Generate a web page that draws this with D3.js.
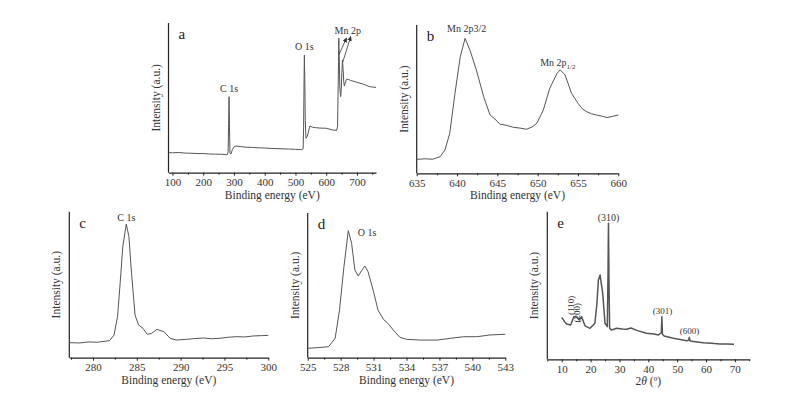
<!DOCTYPE html>
<html>
<head>
<meta charset="utf-8">
<script src="https://cdn.jsdelivr.net/npm/d3@7"></script>
<style>
  body { margin: 0; background: #fff; }
  svg { display: block; font-family: "Liberation Serif", "Times New Roman", serif; }
  .domain, .tick line { stroke: #222; }
  .tick text { fill: #333; font-size: 11px; font-family: "Liberation Serif", "Times New Roman", serif; }
</style>
</head>
<body>
<div id="chart"></div>
<script>
// ---- data (intensities are relative, 0-100 of the plot height) ----

// a: XPS survey
const surveyEnergy = [87, 100, 120, 140, 160, 180, 200, 220, 240, 260, 278, 281, 282.5, 284, 285.5, 287, 290, 295, 300, 306,
  320, 340, 360, 380, 400, 420, 440, 460, 480, 500, 520, 525, 526.5, 528, 529, 530.5, 532, 534, 538, 542, 547, 555, 565,
  580, 600, 620, 634, 637, 639, 641, 642.5, 644.5, 647, 649, 651, 653, 655, 657, 659, 662, 666, 672, 680, 690, 700, 710,
  720, 730, 740, 750, 762];
const surveyIntensity = [13.4, 13.3, 13.5, 13.1, 13.0, 12.8, 12.8, 12.5, 12.4, 12.3, 12.0, 14, 32, 50.8, 30, 13, 12.5, 15.5, 17.2, 17.8,
  17.5, 17.0, 16.9, 16.6, 16.5, 16.2, 16.1, 15.9, 15.8, 15.6, 15.4, 16, 30, 62, 78.6, 60, 35, 23, 24, 27, 31.2, 30.4, 30.1,
  29.8, 29.7, 28.6, 28.2, 31, 58, 89.8, 76, 56, 50.8, 56, 67, 75.3, 69, 61, 58, 60, 62.4, 62.3, 61.6, 61, 60.4, 59.8,
  59.2, 58.4, 57.6, 57.2, 57];

// b: Mn 2p
const mnEnergy = [635, 636, 637, 637.9, 638.5, 639.1, 639.75, 640.4, 641.0, 641.6, 642.4, 643.3, 643.7, 644.1, 644.7, 645.3,
  646.1, 647, 647.8, 648.6, 649.3, 649.9, 650.7, 651.5, 652.4, 652.8, 653.4, 654.2, 654.6, 655.0, 655.6, 656.1, 656.7,
  657.3, 658.0, 658.6, 659.3, 660];
const mnIntensity = [9.4, 9.8, 9.5, 11.2, 15.7, 27, 54, 78.6, 91, 83.1, 69.7, 51.7, 45.5, 39.3, 36.6, 33.2,
  32.4, 31, 30.5, 29.7, 31.2, 33.7, 42.7, 57.3, 67.4, 69.7, 66.3, 54, 50.5, 47.2, 43.2, 41.5, 40.1,
  39.3, 38.5, 37.6, 38.4, 39.3];

// c: C 1s
const c1sEnergy = [277.3, 278.5, 279.5, 280.5, 281.9, 282.4, 282.8, 283.1, 283.4, 283.8, 284.1, 284.4, 284.8, 285.2, 285.7,
  286.2, 286.7, 287.3, 288.1, 288.8, 289.5, 290.7, 291.6, 292.6, 293.5, 294.5, 295.4, 296.4, 297.3, 298.3, 299.2, 300];
const c1sIntensity = [10.3, 10.1, 10.8, 10.6, 11.7, 15.5, 28, 51, 76, 91.6, 82.9, 57.8, 29.2, 22.4, 20.1,
  16, 16.7, 19.4, 17.8, 13.3, 12.1, 12.6, 13.1, 13.5, 13.0, 13.3, 14.0, 14.4, 14.2, 14.9, 15.1, 15.3];

// d: O 1s
const o1sEnergy = [525, 526, 526.9, 527.5, 527.9, 528.3, 528.7, 529.0, 529.3, 529.6, 529.9, 530.2, 530.5, 531.0, 531.4,
  531.9, 532.3, 532.8, 533.4, 534.0, 535.2, 536.8, 538, 539.2, 540.4, 541.6, 543];
const o1sIntensity = [6.5, 7.0, 7.6, 13.4, 33, 62.9, 87.8, 79, 60.6, 56.5, 60.1, 63.4, 59.4, 45.6, 33,
  26.5, 23.8, 19.1, 14.1, 12.7, 12.2, 12.2, 13.4, 14.5, 14.5, 15.7, 16.2];

// e: XRD
const xrdAngle = [10, 11, 11.7, 13.1, 14.2, 15.2, 16.1, 16.9, 18.1, 19.8, 21.5, 22.2, 22.7, 23.3, 24.2, 25, 25.8, 26.05,
  26.2, 26.4, 26.6, 27.3, 29, 31, 32.5, 34, 36, 39.4, 42, 43.5, 44.5, 44.7, 44.9, 45.5, 48.7, 51, 53.3, 54.0, 54.2,
  54.5, 57, 59.1, 62, 64.8, 67, 69.7];
const xrdIntensity = [28.4, 25.5, 23.9, 23.2, 28.9, 28.4, 26.6, 28.9, 22.6, 21, 24.4, 38, 53.7, 57.1, 44.7, 24.4, 22.1, 60,
  92.1, 50, 21, 19.8, 21, 20.5, 20.3, 21.2, 19.6, 17.6, 17.2, 16.5, 18, 28.9, 17, 15.8, 14.2, 13.4, 12.6, 13, 14.9,
  12.4, 11.8, 11.2, 10.8, 10.4, 10.3, 10.2];

// tick labels
const surveyTicks = [100, 200, 300, 400, 500, 600, 700];
const mnTicks = [635, 640, 645, 650, 655, 660];
const c1sTicks = [280, 285, 290, 295, 300];
const o1sTicks = [525, 528, 531, 534, 537, 540, 543];
const xrdTicks = [10, 20, 30, 40, 50, 60, 70];

const width = 787, height = 396;

const svg = d3.select("#chart").append("svg")
  .attr("width", width)
  .attr("height", height)
  .attr("viewBox", [0, 0, width, height]);

svg.append("defs").append("marker")
  .attr("id", "arrow")
  .attr("viewBox", "0 0 10 10")
  .attr("refX", 9).attr("refY", 5)
  .attr("markerWidth", 6).attr("markerHeight", 6)
  .attr("orient", "auto")
  .append("path")
  .attr("d", "M0,0 L10,5 L0,10 z")
  .attr("fill", "#333");

// draws one panel: left + bottom axis, major/minor ticks, curve, titles
function drawPanel(p) {
  const x = d3.scaleLinear().domain(p.xDomain).range([p.left, p.right]);
  const y = d3.scaleLinear().domain([0, 100]).range([p.bottom, p.top]);
  const g = svg.append("g");

  // minor ticks halfway between labelled ones
  const step = p.ticks[1] - p.ticks[0];
  const minor = [];
  for (let v = p.ticks[0] - step / 2; v <= p.xDomain[1] + 1e-9; v += step) {
    if (v >= p.xDomain[0] - 1e-9) minor.push(v);
  }
  g.append("g")
    .attr("transform", `translate(0,${p.bottom})`)
    .call(d3.axisBottom(x).tickValues(minor).tickSize(2).tickSizeOuter(0).tickFormat(""))
    .call(a => a.select(".domain").remove());

  g.append("g")
    .attr("transform", `translate(0,${p.bottom})`)
    .call(d3.axisBottom(x).tickValues(p.ticks).tickSize(3).tickSizeOuter(0).tickPadding(3))
    .attr("font-family", null)
    .call(a => a.select(".domain").attr("stroke-width", 1.2));

  g.append("line")
    .attr("x1", p.left).attr("x2", p.left)
    .attr("y1", p.top).attr("y2", p.bottom)
    .attr("stroke", "#222").attr("stroke-width", 1.2);

  const line = d3.line().x(d => x(d[0])).y(d => y(d[1]));
  g.append("path")
    .datum(d3.zip(p.xs, p.ys))
    .attr("d", line)
    .attr("fill", "none")
    .attr("stroke", "#555")
    .attr("stroke-width", p.strokeWidth || 1)
    .attr("stroke-linejoin", "round");

  // axis titles
  const xt = g.append("text")
    .attr("x", (p.left + p.right) / 2)
    .attr("y", p.bottom + 26)
    .attr("text-anchor", "middle")
    .attr("font-size", 11.5)
    .attr("fill", "#333");
  if (p.xTitleTheta) {
    xt.append("tspan").text("2");
    xt.append("tspan").attr("font-style", "italic").text("θ");
    xt.append("tspan").text(" (º)");
  } else {
    xt.text("Binding energy (eV)");
  }

  g.append("text")
    .attr("transform", `translate(${p.left - 9},${(p.top + p.bottom) / 2}) rotate(-90)`)
    .attr("text-anchor", "middle")
    .attr("font-size", 11.5)
    .attr("fill", "#333")
    .text("Intensity (a.u.)");

  g.append("text")
    .attr("x", p.left + 10)
    .attr("y", p.top + 16)
    .attr("font-size", 15)
    .attr("fill", "#222")
    .text(p.letter);

  return { g, x, y };
}

// small peak labels
function label(g, px, py, txt, opts = {}) {
  const t = g.append("text")
    .attr("x", px).attr("y", py)
    .attr("text-anchor", opts.anchor || "middle")
    .attr("font-size", opts.size || 10)
    .attr("fill", "#333")
    .text(txt);
  if (opts.rotate) t.attr("transform", `rotate(-90,${px},${py})`);
  return t;
}

// ---- panel a ----
const pa = drawPanel({ letter: "a", left: 168.5, right: 376, top: 23, bottom: 172.7,
  xDomain: [87, 762], ticks: surveyTicks, xs: surveyEnergy, ys: surveyIntensity });
label(pa.g, pa.x(284), pa.y(54), "C 1s");
label(pa.g, pa.x(529), pa.y(82), "O 1s");
label(pa.g, pa.x(670), pa.y(92.5), "Mn 2p");
pa.g.append("line")
  .attr("x1", pa.x(642)).attr("y1", pa.y(79)).attr("x2", pa.x(666)).attr("y2", pa.y(90))
  .attr("stroke", "#333").attr("stroke-width", 0.8).attr("marker-end", "url(#arrow)");
pa.g.append("line")
  .attr("x1", pa.x(654)).attr("y1", pa.y(74)).attr("x2", pa.x(680)).attr("y2", pa.y(91))
  .attr("stroke", "#333").attr("stroke-width", 0.8).attr("marker-end", "url(#arrow)");

// ---- panel b ----
const pb = drawPanel({ letter: "b", left: 416.7, right: 618.3, top: 25, bottom: 173.3,
  xDomain: [635, 660], ticks: mnTicks, xs: mnEnergy, ys: mnIntensity });
label(pb.g, pb.x(641.2), pb.y(95), "Mn 2p3/2");
const sub = label(pb.g, pb.x(652.5), pb.y(72.5), "Mn 2p");
sub.append("tspan").attr("font-size", 7).attr("dy", 3).text("1/2");

// ---- panel c ----
const pc = drawPanel({ letter: "c", left: 69.3, right: 268.3, top: 211.7, bottom: 357.7,
  xDomain: [277.3, 300], ticks: c1sTicks, xs: c1sEnergy, ys: c1sIntensity });
label(pc.g, pc.x(283.8), pc.y(93.5), "C 1s");

// ---- panel d ----
const pd = drawPanel({ letter: "d", left: 307.7, right: 505.3, top: 213, bottom: 357.7,
  xDomain: [525, 543], ticks: o1sTicks, xs: o1sEnergy, ys: o1sIntensity });
label(pd.g, pd.x(530.4), pd.y(84), "O 1s");

// ---- panel e ----
const pe = drawPanel({ letter: "e", left: 547.3, right: 749.3, top: 211.7, bottom: 359.3,
  xDomain: [5, 75], ticks: xrdTicks, xs: xrdAngle, ys: xrdIntensity, xTitleTheta: true, strokeWidth: 1.5 });
label(pe.g, pe.x(26.2), pe.y(93.5), "(310)");
label(pe.g, pe.x(14.3), pe.y(36.5), "(110)", { rotate: true, size: 9 });
label(pe.g, pe.x(16.4), pe.y(31.5), "(200)", { rotate: true, size: 9 });
label(pe.g, pe.x(44.9), pe.y(31), "(301)", { size: 9 });
label(pe.g, pe.x(54.3), pe.y(17), "(600)", { size: 9 });
</script>
</body>
</html>
